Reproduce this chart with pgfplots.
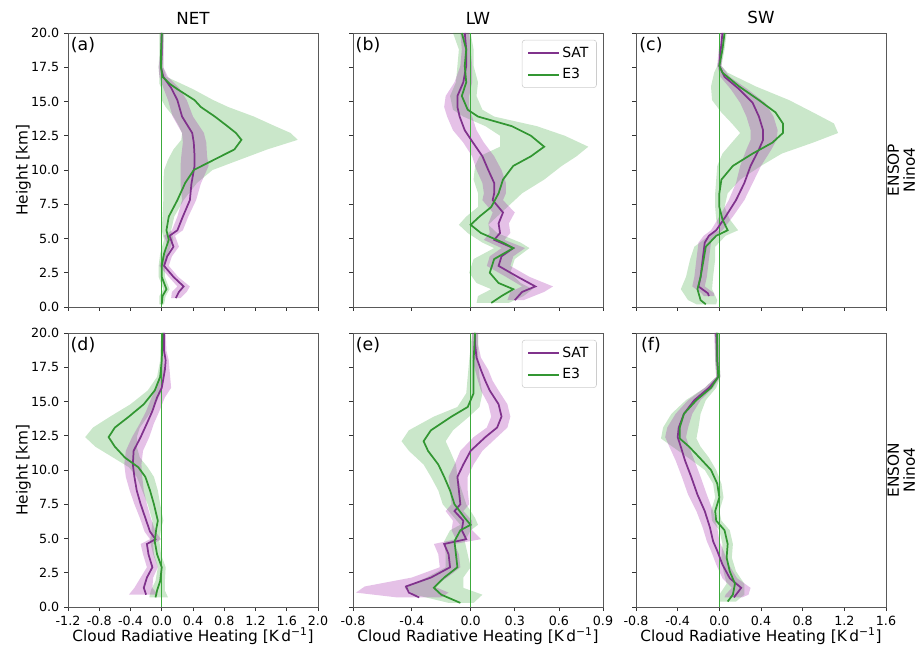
\documentclass[border=0pt]{standalone}
\usepackage{pgfplots}
\pgfplotsset{compat=1.18}
\usepackage{pgfplotstable}
\usepgfplotslibrary{fillbetween}
\usepackage{fontspec}
\setmainfont{DejaVu Sans}

\definecolor{satc}{RGB}{128,50,140}
\definecolor{e3c}{RGB}{50,150,50}
\definecolor{satband}{RGB}{160,32,170}
\definecolor{e3band}{RGB}{44,160,44}
\definecolor{zeroc}{RGB}{60,170,60}

% ---------- (a) NET, ENSOP ----------
\pgfplotstableread{
y c lo hi
20.0 0.00 -0.02 0.02
18.5 0.00 -0.02 0.02
17.5 -0.01 -0.04 0.02
16.8 0.02 -0.03 0.08
16.0 0.12 0.02 0.22
15.1 0.20 0.08 0.32
13.9 0.26 0.14 0.40
12.7 0.39 0.26 0.54
12.0 0.41 0.27 0.57
11.0 0.42 0.25 0.58
10.3 0.42 0.24 0.60
9.0 0.38 0.24 0.50
7.8 0.36 0.26 0.44
6.6 0.27 0.20 0.34
5.6 0.20 0.13 0.27
5.2 0.10 0.03 0.17
4.4 0.15 0.08 0.22
3.7 0.07 0.01 0.13
3.0 0.03 -0.03 0.09
2.2 0.15 0.09 0.21
1.5 0.28 0.20 0.36
1.1 0.22 0.13 0.32
0.65 0.18 0.12 0.24
}\satA
\pgfplotstableread{
y c lo hi
20.0 0.00 -0.03 0.03
18.5 -0.01 -0.03 0.02
17.5 -0.01 -0.04 0.02
16.8 0.01 -0.03 0.06
16.3 0.10 -0.03 0.25
15.9 0.20 0.00 0.40
15.1 0.42 0.00 0.66
14.6 0.50 0.05 0.85
13.9 0.68 0.15 1.18
13.2 0.84 0.22 1.45
12.7 0.95 0.26 1.65
12.2 1.02 0.25 1.74
11.5 0.93 0.15 1.35
10.75 0.67 0.08 1.00
10.0 0.41 0.03 0.65
9.05 0.30 0.02 0.45
7.8 0.20 0.02 0.28
6.6 0.09 0.01 0.16
5.6 0.06 0.00 0.12
4.9 0.09 0.03 0.15
3.9 0.03 -0.02 0.08
3.0 0.00 -0.04 0.04
2.2 0.00 -0.04 0.04
1.3 0.06 0.02 0.10
0.8 0.01 -0.03 0.05
0.2 0.00 -0.03 0.03
}\eA

% ---------- (b) LW, ENSOP ----------
\pgfplotstableread{
y c lo hi
20.0 -0.04 -0.07 -0.01
18.8 -0.03 -0.06 0.00
17.6 -0.03 -0.07 0.01
16.4 -0.05 -0.11 0.01
15.4 -0.09 -0.17 -0.01
14.6 -0.09 -0.18 -0.01
13.9 -0.075 -0.16 0.01
12.9 -0.04 -0.12 0.04
12.0 0.016 -0.05 0.09
11.0 0.08 0.01 0.16
10.0 0.12 0.04 0.21
9.05 0.16 0.08 0.24
8.3 0.16 0.09 0.24
7.8 0.15 0.08 0.22
6.9 0.22 0.15 0.30
6.1 0.19 0.12 0.26
5.4 0.20 0.13 0.27
4.9 0.16 0.09 0.23
4.3 0.29 0.21 0.37
3.7 0.21 0.13 0.29
3.0 0.19 0.11 0.27
2.2 0.32 0.24 0.40
1.5 0.44 0.35 0.56
1.1 0.35 0.27 0.50
0.5 0.30 0.25 0.36
}\satB
\pgfplotstableread{
y c lo hi
20.0 -0.06 -0.12 0.00
18.8 -0.03 -0.08 0.02
17.6 -0.04 -0.09 0.02
16.4 -0.03 -0.10 0.05
15.4 -0.06 -0.14 0.04
14.4 -0.02 -0.12 0.08
13.9 0.05 -0.05 0.16
13.2 0.28 0.10 0.45
12.5 0.41 0.20 0.64
11.7 0.50 0.20 0.80
11.0 0.41 0.06 0.72
10.3 0.29 0.03 0.62
9.3 0.22 0.02 0.50
8.3 0.19 0.05 0.35
7.3 0.14 0.05 0.25
6.6 0.06 -0.03 0.18
6.0 0.00 -0.08 0.12
5.4 0.07 -0.02 0.18
4.7 0.22 0.08 0.34
4.3 0.29 0.16 0.40
3.5 0.16 0.02 0.30
2.5 0.13 -0.01 0.27
1.75 0.19 0.04 0.34
1.3 0.29 0.14 0.42
0.8 0.21 0.05 0.36
0.3 0.14 0.04 0.26
}\eB

% ---------- (c) SW, ENSOP ----------
\pgfplotstableread{
y c lo hi
20.0 0.03 0.01 0.05
18.5 0.01 -0.01 0.03
17.6 0.00 -0.02 0.02
16.8 0.05 0.01 0.10
15.9 0.19 0.11 0.27
14.9 0.32 0.20 0.44
13.9 0.38 0.26 0.52
12.9 0.42 0.30 0.56
12.2 0.42 0.30 0.55
11.5 0.38 0.26 0.50
10.3 0.30 0.20 0.40
9.05 0.24 0.16 0.32
7.8 0.16 0.09 0.24
6.6 0.06 0.00 0.13
5.6 -0.03 -0.08 0.03
5.2 -0.10 -0.15 -0.04
4.7 -0.14 -0.20 -0.08
3.5 -0.16 -0.22 -0.10
2.2 -0.18 -0.24 -0.12
1.5 -0.20 -0.26 -0.14
1.0 -0.11 -0.17 -0.05
0.8 -0.10 -0.15 -0.05
}\satC
\pgfplotstableread{
y c lo hi
20.0 0.05 0.03 0.07
18.8 0.03 0.01 0.05
17.6 0.00 -0.02 0.02
17.1 0.03 -0.05 0.08
16.1 0.19 -0.08 0.35
15.1 0.38 -0.07 0.67
14.2 0.54 0.02 0.90
13.4 0.61 0.12 1.10
12.7 0.61 0.20 1.14
12.0 0.51 0.12 0.90
11.2 0.32 0.03 0.60
10.3 0.13 -0.02 0.40
9.3 0.02 -0.03 0.20
8.3 0.00 -0.04 0.08
7.3 0.00 -0.04 0.05
6.4 0.03 -0.03 0.10
5.6 0.08 0.00 0.18
5.2 -0.03 -0.10 0.06
4.4 -0.13 -0.24 -0.04
3.5 -0.15 -0.28 -0.04
2.2 -0.18 -0.32 -0.06
1.3 -0.21 -0.37 -0.07
0.5 -0.18 -0.30 -0.02
0.2 -0.13 -0.22 -0.03
}\eC

% ---------- (d) NET, ENSON ----------
\pgfplotstableread{
y c lo hi
20.0 0.03 0.00 0.05
18.7 0.03 0.00 0.06
18.0 0.05 0.01 0.09
17.3 0.04 -0.01 0.10
16.0 0.00 -0.07 0.12
15.3 -0.06 -0.13 0.04
14.3 -0.12 -0.20 -0.03
13.4 -0.19 -0.28 -0.10
12.4 -0.27 -0.38 -0.16
11.4 -0.36 -0.46 -0.24
10.4 -0.37 -0.48 -0.26
9.5 -0.35 -0.46 -0.25
8.5 -0.32 -0.41 -0.23
7.5 -0.27 -0.35 -0.19
6.5 -0.21 -0.28 -0.14
5.5 -0.15 -0.22 -0.08
4.95 -0.08 -0.15 -0.01
4.6 -0.19 -0.27 -0.11
3.85 -0.17 -0.24 -0.10
2.9 -0.12 -0.19 -0.05
2.15 -0.19 -0.27 -0.11
1.4 -0.23 -0.35 -0.12
0.9 -0.20 -0.42 -0.05
}\satD
\pgfplotstableread{
y c lo hi
20.0 0.01 -0.01 0.03
18.0 0.00 -0.02 0.02
16.8 -0.02 -0.06 0.03
15.8 -0.09 -0.18 0.00
14.8 -0.23 -0.40 -0.08
13.9 -0.42 -0.66 -0.18
13.1 -0.60 -0.88 -0.28
12.4 -0.68 -0.98 -0.32
11.7 -0.60 -0.85 -0.32
10.9 -0.47 -0.62 -0.28
10.2 -0.30 -0.42 -0.18
9.5 -0.21 -0.32 -0.10
8.5 -0.15 -0.25 -0.05
7.5 -0.10 -0.18 -0.02
6.3 -0.05 -0.12 0.02
5.7 -0.07 -0.13 -0.01
4.8 -0.09 -0.15 -0.03
3.85 -0.06 -0.11 -0.01
2.9 0.00 -0.05 0.05
1.9 -0.02 -0.08 0.04
1.2 -0.06 -0.14 0.04
0.7 -0.08 -0.16 0.08
}\eD

% ---------- (e) LW, ENSON ----------
\pgfplotstableread{
y c lo hi
20.0 0.03 0.01 0.05
19.2 0.03 0.01 0.05
18.2 0.04 0.01 0.07
17.3 0.07 0.03 0.12
16.5 0.10 0.05 0.15
15.8 0.13 0.07 0.19
14.8 0.19 0.12 0.25
13.9 0.21 0.14 0.27
13.1 0.18 0.11 0.25
12.4 0.10 0.02 0.18
11.4 0.00 -0.07 0.08
10.4 -0.05 -0.11 0.02
9.5 -0.09 -0.15 -0.02
8.5 -0.08 -0.14 -0.02
7.5 -0.07 -0.13 -0.01
7.0 -0.11 -0.17 -0.05
6.3 -0.05 -0.12 0.01
5.6 -0.06 -0.13 0.01
4.95 -0.03 -0.10 0.07
4.6 -0.18 -0.25 -0.11
3.85 -0.15 -0.22 -0.08
2.9 -0.14 -0.21 -0.07
2.15 -0.27 -0.40 -0.16
1.5 -0.44 -0.72 -0.25
1.05 -0.42 -0.78 -0.15
0.7 -0.35 -0.50 -0.20
}\satE
\pgfplotstableread{
y c lo hi
20.0 0.03 0.01 0.05
18.0 0.02 -0.01 0.05
16.8 0.02 -0.02 0.06
15.6 0.02 -0.03 0.08
14.6 -0.02 -0.09 0.06
13.9 -0.13 -0.25 -0.01
12.9 -0.27 -0.42 -0.12
12.1 -0.32 -0.47 -0.17
11.4 -0.29 -0.42 -0.14
10.4 -0.22 -0.32 -0.10
9.5 -0.18 -0.27 -0.09
8.5 -0.14 -0.22 -0.06
7.5 -0.11 -0.19 -0.03
6.5 -0.04 -0.11 0.03
6.0 0.00 -0.07 0.05
5.6 -0.07 -0.14 0.00
4.8 -0.11 -0.18 -0.04
3.85 -0.10 -0.17 -0.02
2.9 -0.09 -0.17 0.00
2.15 -0.18 -0.30 -0.05
1.4 -0.25 -0.45 -0.05
0.9 -0.20 -0.38 0.08
0.3 -0.07 -0.15 0.02
}\eE

% ---------- (f) SW, ENSON ----------
\pgfplotstableread{
y c lo hi
20.0 -0.03 -0.05 -0.01
18.0 -0.02 -0.04 0.00
16.8 -0.01 -0.03 0.01
16.0 -0.10 -0.14 -0.06
15.1 -0.24 -0.30 -0.18
14.1 -0.34 -0.42 -0.26
13.1 -0.39 -0.50 -0.30
12.4 -0.40 -0.52 -0.32
11.7 -0.37 -0.48 -0.29
10.7 -0.33 -0.42 -0.24
9.5 -0.27 -0.36 -0.18
8.2 -0.21 -0.30 -0.12
7.0 -0.14 -0.22 -0.06
5.8 -0.09 -0.16 -0.02
4.8 -0.06 -0.12 0.00
4.1 -0.02 -0.08 0.04
3.1 0.03 -0.03 0.09
2.1 0.10 0.03 0.17
1.4 0.21 0.12 0.30
0.9 0.16 0.06 0.28
0.7 0.14 0.05 0.22
}\satF
\pgfplotstableread{
y c lo hi
20.0 -0.02 -0.04 0.00
18.0 -0.02 -0.04 0.00
16.8 -0.01 -0.03 0.01
16.0 -0.08 -0.14 -0.03
15.1 -0.22 -0.32 -0.13
14.1 -0.34 -0.46 -0.18
13.1 -0.38 -0.54 -0.20
12.3 -0.38 -0.56 -0.22
11.7 -0.29 -0.45 -0.18
10.9 -0.19 -0.30 -0.10
10.0 -0.08 -0.14 -0.03
9.0 -0.02 -0.06 0.02
8.0 0.00 -0.04 0.04
7.0 -0.04 -0.08 0.00
6.3 -0.03 -0.07 0.02
5.6 0.05 0.00 0.10
4.6 0.08 0.03 0.13
3.6 0.07 0.02 0.12
2.6 0.10 0.04 0.16
1.7 0.15 0.07 0.24
0.9 0.13 0.00 0.24
0.4 0.08 0.00 0.16
}\eF

\newcommand{\panel}[2]{%
  \addplot[name path=eh, draw=none, forget plot] table[x=hi,y=y]{#2};
  \addplot[name path=el, draw=none, forget plot] table[x=lo,y=y]{#2};
  \addplot[fill=e3band, fill opacity=0.25, draw=none, forget plot] fill between[of=eh and el, reverse=true];
  \addplot[name path=sh, draw=none, forget plot] table[x=hi,y=y]{#1};
  \addplot[name path=sl, draw=none, forget plot] table[x=lo,y=y]{#1};
  \addplot[fill=satband, fill opacity=0.28, draw=none, forget plot] fill between[of=sh and sl, reverse=true];
  \addplot[draw=zeroc, line width=0.8pt, forget plot] coordinates {(0,0) (0,20)};
  \addplot[draw=satc, line width=1.3pt, forget plot] table[x=c,y=y]{#1};
  \addplot[draw=e3c, line width=1.3pt, forget plot] table[x=c,y=y]{#2};
}
\newcommand{\leg}{%
  \addlegendimage{draw=satc, line width=1.3pt}\addlegendentry{SAT}
  \addlegendimage{draw=e3c, line width=1.3pt}\addlegendentry{E3}
}

\tikzset{lettr/.style={font=\fontsize{13}{15}\selectfont, anchor=center}}

\pgfplotsset{
  crh/.style={
    width=187.5pt, height=205.5pt, scale only axis,
    ymin=0, ymax=20,
    ytick={0,2.5,5,7.5,10,12.5,15,17.5,20},
    xtick pos=bottom, ytick pos=left,
    tick align=outside, major tick length=3pt,
    tick style={black!80, line width=0.5pt},
    axis line style={black!65, line width=0.6pt},
    /pgf/number format/assume math mode=true,
    tick label style={font=\fontsize{9.5}{11}\selectfont},
    xticklabel style={/pgf/number format/fixed, /pgf/number format/fixed zerofill, /pgf/number format/precision=1},
    yticklabel style={/pgf/number format/fixed, /pgf/number format/fixed zerofill, /pgf/number format/precision=1},
    scaled ticks=false,
    title style={font=\fontsize{12.5}{14}\selectfont, at={(axis description cs:0.5,1.055)}, anchor=center, yshift=-6pt},
    xlabel style={font=\fontsize{11.5}{13}\selectfont, at={(axis description cs:0.5,-0.106)}, anchor=center},
    ylabel style={font=\fontsize{11.5}{13}\selectfont, at={(axis description cs:-0.178,0.5)}, anchor=center, rotate=0},
    legend style={at={(0.975,0.975)}, anchor=north east, draw=black!20, rounded corners=2pt,
      font=\fontsize{10.5}{12.5}\selectfont, fill=white, inner xsep=4pt, inner ysep=3pt, row sep=3pt},
    legend cell align=left,
    legend image code/.code={\draw[##1] (0cm,0cm) -- (0.8cm,0cm);},
  },
  netx/.style={xmin=-1.2, xmax=2.0, xtick={-1.2,-0.8,-0.4,0,0.4,0.8,1.2,1.6,2.0}},
  lwx/.style={xmin=-0.8, xmax=0.9, xtick={-0.8,-0.4,0,0.3,0.6,0.9}},
  swx/.style={xmin=-0.8, xmax=1.6, xtick={-0.8,-0.4,0,0.4,0.8,1.2,1.6}},
}

\begin{document}
\begin{tikzpicture}

\begin{axis}[crh, netx, at={(51pt,-24.75pt)}, anchor=north west,
  title={NET}, ylabel={Height [km]}, xticklabels={}]
  \panel{\satA}{\eA}
  \node[lettr] at (axis description cs:0.06,0.956) {(a)};
\end{axis}

\begin{axis}[crh, lwx, at={(264.75pt,-24.75pt)}, anchor=north west,
  title={LW}, xticklabels={}, yticklabels={}]
  \leg
  \panel{\satB}{\eB}
  \node[lettr] at (axis description cs:0.06,0.956) {(b)};
\end{axis}

\begin{axis}[crh, swx, at={(477pt,-24.75pt)}, anchor=north west,
  title={SW}, xticklabels={}, yticklabels={}]
  \panel{\satC}{\eC}
  \node[lettr] at (axis description cs:0.06,0.956) {(c)};
\end{axis}

\begin{axis}[crh, netx, at={(51pt,-249.75pt)}, anchor=north west,
  ylabel={Height [km]}, xlabel={Cloud Radiative Heating [K\,d\textsuperscript{−1}]}]
  \panel{\satD}{\eD}
  \node[lettr] at (axis description cs:0.06,0.956) {(d)};
\end{axis}

\begin{axis}[crh, lwx, at={(264.75pt,-249.75pt)}, anchor=north west,
  yticklabels={}, xlabel={Cloud Radiative Heating [K\,d\textsuperscript{−1}]}]
  \leg
  \panel{\satE}{\eE}
  \node[lettr] at (axis description cs:0.06,0.956) {(e)};
\end{axis}

\begin{axis}[crh, swx, at={(477pt,-249.75pt)}, anchor=north west,
  yticklabels={}, xlabel={Cloud Radiative Heating [K\,d\textsuperscript{−1}]}]
  \panel{\satF}{\eF}
  \node[lettr] at (axis description cs:0.06,0.956) {(f)};
\end{axis}

\node[rotate=90, align=center, font=\fontsize{11.5}{12}\selectfont] at (676pt,-127.5pt) {ENSOP\\Nino4};
\node[rotate=90, align=center, font=\fontsize{11.5}{12}\selectfont] at (676pt,-352.5pt) {ENSON\\Nino4};

\pgfresetboundingbox
\useasboundingbox (0pt,0pt) rectangle (690pt,-486pt);
\end{tikzpicture}
\end{document}
